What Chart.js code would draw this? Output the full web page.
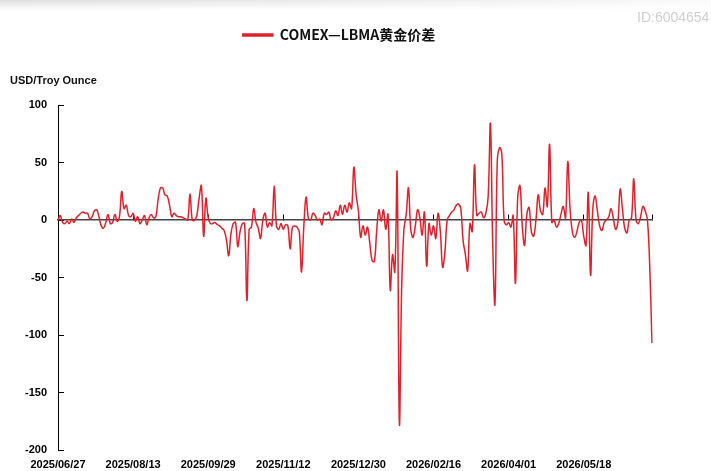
<!DOCTYPE html>
<html>
<head>
<meta charset="utf-8">
<title>COMEX-LBMA gold spread</title>
<script src="https://cdn.jsdelivr.net/npm/chart.js@4.4.1/dist/chart.umd.min.js"></script>
<style>
    html, body { margin: 0; padding: 0; background: #fff; }
    #wrap { position: relative; width: 711px; height: 471px; }
    #topband {
        position: absolute; left: 0; top: 0; width: 711px; height: 10px;
        background: linear-gradient(to bottom, rgba(255,255,255,0), #fff),
                    linear-gradient(to right, #dedede, #f2f2f2 75%, #fafafa);
    }
    #wm {
        position: absolute; left: 637px; top: 9px; white-space: nowrap;
        font: 14px 'Liberation Sans', Arial, sans-serif; color: #cfcfcf;
    }
</style>
</head>
<body>
<div id="wrap">
    <canvas id="spread-chart" width="711" height="471"></canvas>
    <div id="topband"></div>
    <div id="wm">ID:6004654</div>
</div>
<script>
// labels shown under the axis, one every 33 trading days
var tickLabels = ['2025/06/27', '2025/08/13', '2025/09/29', '2025/11/12', '2025/12/30', '2026/02/16', '2026/04/01', '2026/05/18'];
var tickEvery = 33;

// COMEX - LBMA spread, USD/troy ounce
var spread = [
    0, 4, -2, -3, -1, -3, 1, -2, 2, 4,
    6, 7, 6, 6, 1, 3, 8, 9, 3, -5,
    -7, -2, 5, -3, -2, 5, -1, 3, 25,
    10, 13, 4, 3, 6, -1, 3, -3, 0, 4,
    -4, 2, 5, 2, 3, 18, 28, 28, 22, 21,
    13, 3, 6, 4, 3, 3, 2, 1, 0, 23,
    0, 0, 4, 19, 30, -14, 19, 2, -3, -3,
    -2, -4, -5, -7, -9, -17, -31, -12, -3, -2,
    -23, -10, -3, -3, -70, -8, -6, 10, -2, -7,
    -16, 0, 6, -6, -2, -5, 30, -5, -8, -3,
    -8, -4, -5, -25, -6, -5, -6, -10, -45, -6,
    20, 2, 0, 6, 4, 0, 1, -4, 6,
    5, 7, 0, 2, 8, 4, 13, 5, 13, 7,
    15, 10, 46, 22, 8, -15, -5, -13, -6, -20,
    -35, -36, -10, 9, -1, 9, -8, 5, -61, -30,
    -45, 41, -177, -60, -8, 5, 28, -8, -15, -5,
    9, 2, -13, 7, -40, -3, -13, -5, -16, 6,
    -10, -41, -28, 0, 4, 7, 9, 13, 14, 10,
    -18, -30, -44, -3, -10, 48, 4, 6, 7, 2,
    6, 20, 84, -20, -73, 50, 63, 58, 0, -4,
    -2, -6, 4, -55, 20, 30, -5, -22, 5, 11,
    -10, -14, 0, 22, 8, 5, 28, 12, 66, -2,
    0, -6, -3, 5, 12, 2, 51, 10, -10, -15,
    -10, -2, 0, -14, -22, 24, -48, 10, 21, 8,
    -5, -9, -2, 0, 3, 10, 2, -8, -2,
    27, 10, -7, -11, 0, 2, 36, 0, -3, 3,
    12, 8, 0, -40, -107
];

var yMin = -200;
var yMax = 100;
var yStep = 50;

// trading days (weekdays) starting from the first date
function fmt(d) {
    var m = d.getMonth() + 1, day = d.getDate();
    return d.getFullYear() + '/' + (m < 10 ? '0' : '') + m + '/' + (day < 10 ? '0' : '') + day;
}
var categories = [];
var d = new Date(2025, 5, 27);
while (categories.length < spread.length) {
    if (d.getDay() !== 0 && d.getDay() !== 6) categories.push(fmt(d));
    d.setDate(d.getDate() + 1);
}

var red = '#e0212a';
var axisFont = { family: "'Liberation Sans', Arial, sans-serif", size: 11, weight: 'bold' };

// legend sits a little right of the centre in the original
var nudgeLegend = {
    id: 'nudgeLegend',
    afterLayout: function (chart) {
        chart.legend.left += 8;
        chart.legend.right += 8;
    }
};

new Chart(document.getElementById('spread-chart'), {
    type: 'line',
    data: {
        labels: categories,
        datasets: [{
            label: 'COMEX—LBMA黄金价差',
            data: spread,
            borderColor: red,
            backgroundColor: red,
            borderWidth: 1.5,
            pointRadius: 0,
            tension: 0.4,
            fill: false,
            xAxisID: 'x',
            yAxisID: 'y'
        }]
    },
    options: {
        responsive: false,
        animation: false,
        layout: { padding: { top: 18, left: 10, right: 59, bottom: 0 } },
        plugins: {
            legend: {
                position: 'top',
                labels: {
                    boxWidth: 30,
                    boxHeight: 2,
                    padding: 10,
                    color: '#111',
                    font: { family: "'Liberation Sans Narrow', 'Noto Sans CJK SC', sans-serif", size: 14, weight: 'bold' }
                }
            },
            title: {
                display: true,
                text: 'USD/Troy Ounce',
                align: 'start',
                weight: 500,
                color: '#111',
                font: axisFont,
                padding: { top: 22, bottom: 18 }
            },
            tooltip: { enabled: false }
        },
        scales: {
            x: {
                afterFit: function (s) { s.height = 21; },
                ticks: {
                    autoSkip: false,
                    maxRotation: 0,
                    minRotation: 0,
                    padding: 8,
                    color: '#000',
                    font: axisFont,
                    callback: function (v, i) {
                        return i % tickEvery === 0 ? tickLabels[i / tickEvery] : '';
                    }
                },
                grid: { display: false, drawTicks: false },
                border: { display: false }
            },
            // zero line with small upward ticks
            xz: {
                type: 'category',
                axis: 'x',
                position: { y: 0 },
                ticks: { display: false, autoSkip: false },
                grid: {
                    drawOnChartArea: false,
                    tickLength: -6,
                    tickWidth: 1,
                    tickColor: function (c) {
                        return (c.index % tickEvery === 0 || c.index === spread.length - 1) ? '#000' : 'rgba(0,0,0,0)';
                    }
                },
                border: { color: '#444', width: 1.5 }
            },
            y: {
                min: yMin,
                max: yMax,
                afterFit: function (s) {
                    s.width = 48;
                    s.paddingTop = 6;
                    s.paddingBottom = 6;
                },
                ticks: { stepSize: yStep, padding: 17, color: '#000', font: axisFont },
                grid: { drawOnChartArea: false, tickLength: -6, tickColor: '#000' },
                border: { color: '#000', width: 1 }
            }
        }
    },
    plugins: [nudgeLegend]
});
</script>
</body>
</html>
